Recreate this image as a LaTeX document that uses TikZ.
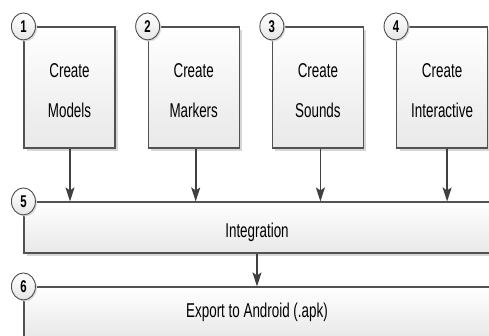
\documentclass[tikz,border=0pt]{standalone}
\usepackage{fontspec}
\setmainfont{Liberation Sans}[FakeStretch=0.67]
\usetikzlibrary{arrows.meta,shapes.geometric,shadows}

\begin{document}
\begin{tikzpicture}[
        x=1pt, y=-1pt,
        stepbox/.style={rectangle, draw=black!68, line width=1.1pt,
            top color=white, bottom color=black!9,
            drop shadow={shadow xshift=3pt, shadow yshift=-3pt, fill=black!16, opacity=1},
            font=\fontsize{20}{40}\selectfont, align=center, inner sep=0pt},
        numbadge/.style={ellipse, draw=black!70, line width=0.9pt,
            top color=white, bottom color=black!10,
            drop shadow={shadow xshift=1.5pt, shadow yshift=-1.5pt, fill=black!15, opacity=1},
            minimum width=24pt, minimum height=27pt, inner sep=0pt,
            font=\fontsize{17}{17}\selectfont\bfseries},
        link/.style={->, draw=black!75, line width=1.6pt},
        >={Stealth[length=14pt,width=9pt,inset=3pt]}
    ]
        \useasboundingbox (0,0) rectangle (489,336);
        \clip (0,0) rectangle (489,336);

        % Create steps
        \foreach \i/\what in {1/Models,2/Markers,3/Sounds,4/Interactive}
            \node[stepbox, minimum width=91pt, minimum height=121pt,
                text height=60pt, text depth=0pt]
                (create-\i) at (69.5+124.2*\i-124.2, 87.5) {Create\\\what};

        % Integration and export
        \node[stepbox, minimum width=466pt, minimum height=51pt,
            text height=19.6pt, text depth=0pt] (integ) at (257, 227.5) {Integration};
        \node[stepbox, minimum width=466pt, minimum height=51pt] (export) at (257, 312.5) {Export to Android (.apk)};

        % Step numbers
        \foreach \i in {1,2,3,4}
            \node[numbadge] (num-\i) at (create-\i.north west) {\i};
        \node[numbadge] (num-5) at (integ.north west) {5};
        \node[numbadge] (num-6) at (export.north west) {6};

        % Connections
        \foreach \i/\dx in {1/0.5,2/2,3/2.5,4/5}
            \draw[link] ([xshift=\dx pt]create-\i.south) -- ([xshift=\dx pt]create-\i.south |- integ.north);
        \draw[link] (integ) -- (export);
    \end{tikzpicture}
\end{document}
